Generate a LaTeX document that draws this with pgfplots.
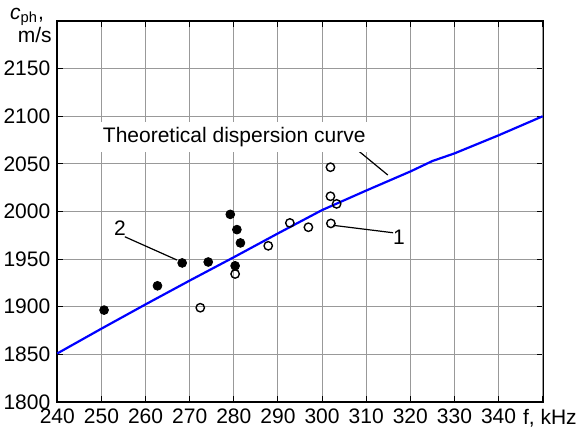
\documentclass[border=0pt]{standalone}
\usepackage{fontspec}
\setmainfont{Liberation Sans}
\usepackage{pgfplots}
\pgfplotsset{compat=1.18}
\newcommand\fkhz{f, kHz}
\begin{document}
\begin{tikzpicture}[font=\fontsize{10.5pt}{12.6pt}\selectfont]
\path[use as bounding box] (0,0) rectangle (290.5pt,217.5pt);
\begin{axis}[
  at={(28.65pt,16.5pt)}, anchor=south west,
  scale only axis, width=242.7pt, height=190.5pt,
  xmin=240, xmax=350, ymin=1800, ymax=2200,
  xtick={240,250,...,340}, ytick={1800,1850,...,2150},
  extra x ticks={350}, extra x tick labels={\fkhz},
  extra x tick style={xticklabel style={xshift=3.6pt}},
  ticklabel style={font=\fontsize{10.5pt}{12.6pt}\selectfont},
  grid=major, grid style={gray!80, line width=0.45pt},
  axis line style={line width=0.9pt},
  tick style={black, line width=0.45pt}, major tick length=3pt,
  tick align=inside,
  /pgf/number format/assume math mode=true,
  /pgf/number format/1000 sep={},
  clip=false,
]
\addplot[blue, line width=1.1pt, no marks] coordinates {
 (240,1851) (250,1877) (260,1902.5) (270,1927.5) (280,1952) (290,1977)
 (300,2001.5) (310,2022) (320,2042) (325,2053) (330,2061) (340,2080) (350,2100)};
\addplot[only marks, mark=*, mark size=2.2pt, black] coordinates {
 (250.6,1896.5) (262.7,1922) (268.3,1946) (274.2,1947) (279.2,1997)
 (280.7,1981) (281.5,1967) (280.3,1943)};
\addplot[only marks, mark=o, mark size=2.1pt, black, line width=0.7pt,
  mark options={fill=white}] coordinates {
 (272.4,1899) (280.3,1934.4) (287.8,1964) (292.7,1988) (296.9,1983.5)
 (301.9,2046.5) (301.9,2016) (303.3,2008) (302,1987.5)};
\draw[black, line width=0.6pt] (axis cs:255.3,1973.5) -- (axis cs:267.1,1949.1);
\draw[black, line width=0.6pt] (axis cs:302.5,1985.5) -- (axis cs:316.1,1977.7);
\draw[black, line width=0.6pt] (axis cs:308.0,2064.6) -- (axis cs:314.9,2038.3);
\node at (axis cs:254.2,1982.7) {2};
\node at (axis cs:317.4,1973) {1};
\node[fill=white, inner sep=2.5pt] at (axis cs:280.1,2078) {Theoretical dispersion curve};
\node[anchor=base east, inner sep=0pt] at ([xshift=-6.5pt,yshift=1pt]rel axis cs:0,1) {\textit{c}\textsubscript{ph},};
\node[anchor=base east, inner sep=0pt] at ([xshift=-2.6pt,yshift=-10.5pt]rel axis cs:0,1) {m/s};
\end{axis}
\end{tikzpicture}
\end{document}
